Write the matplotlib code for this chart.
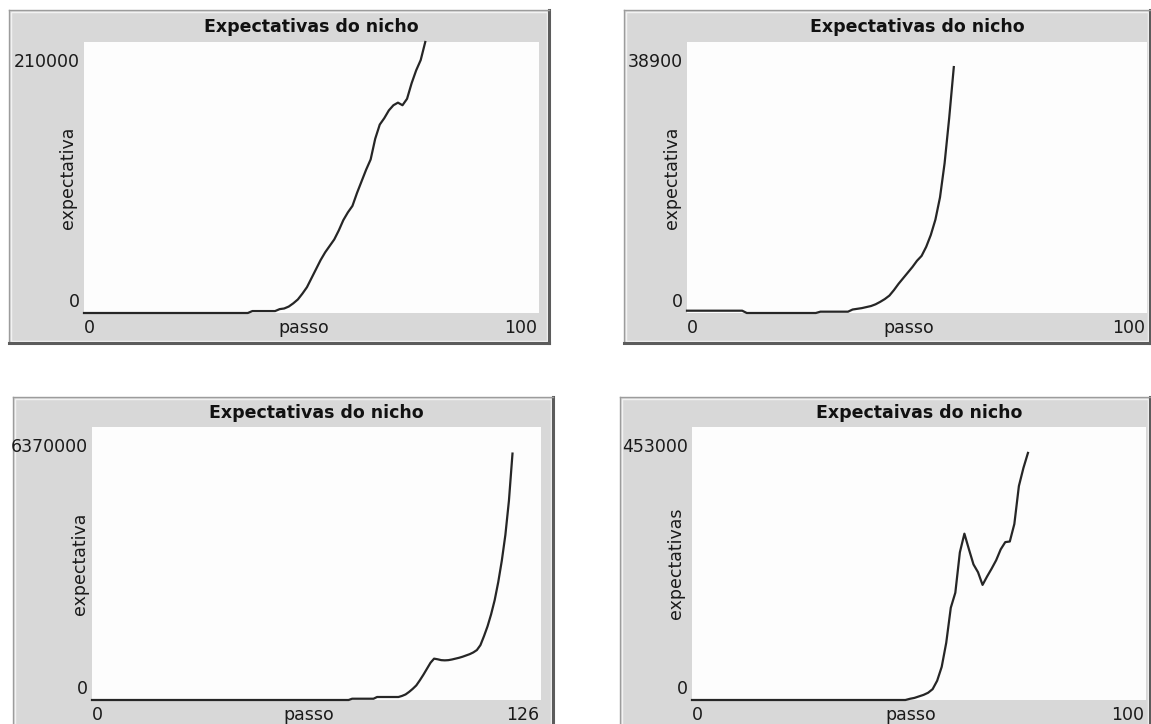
import matplotlib
matplotlib.use("Agg")
import matplotlib.pyplot as plt
from matplotlib.patches import Rectangle

plt.rcParams['font.family'] = ['DejaVu Sans']

# ---- data: expectation of the niche per step ----
expectativa_a = ([0] * 37 + [1500] * 6 +
                 [3000, 3500, 5000, 7500, 10500, 15000, 20000, 27000, 34000, 41000,
                  47000, 52000, 57000, 64000, 72000, 78000, 83000, 93000, 102000, 111000,
                  119000, 135000, 146000, 151000, 157000, 161000, 163000, 161000, 166000,
                  178000, 188000, 196000, 210000])
expectativa_b = ([330] * 13 + [0] * 16 + [190] * 7 +
                 [500, 600, 700, 850, 1000, 1250, 1600, 2000, 2500, 3300, 4200, 5000,
                  5800, 6600, 7500, 8200, 9500, 11200, 13400, 16600, 21500, 28000, 35300])
expectativa_c = ([0] * 73 + [30000] * 7 + [70000] * 7 +
                 [95000, 130000, 190000, 260000, 340000, 460000, 590000, 730000, 870000,
                  965000, 950000, 930000, 925000, 930000, 945000, 965000, 985000, 1010000,
                  1040000, 1070000, 1110000, 1165000, 1280000, 1490000, 1720000, 2000000,
                  2330000, 2750000, 3250000, 3850000, 4650000, 5750000])
expectativas_d = ([0] * 48 +
                  [2000, 3500, 6000, 8500, 12000, 18000, 32000, 55000, 95000, 153000,
                   178000, 245000, 276000, 250000, 225000, 212000, 191000, 205000, 218000,
                   232000, 250000, 262000, 263000, 292000, 355000, 385000, 410000])

titles = ["Expectativas do nicho", "Expectativas do nicho",
          "Expectativas do nicho", "Expectaivas do nicho"]
y_labels = ["expectativa", "expectativa", "expectativa", "expectativas"]
x_label = "passo"
x_max = [100, 100, 126, 100]
y_max = [210000, 38900, 6370000, 453000]
series = [expectativa_a, expectativa_b, expectativa_c, expectativas_d]

# ---- layout in pixels (x0, y0, x1, y1), measured from top-left ----
W, H = 1151, 724
frames = [(9, 10, 549, 343), (624, 10, 1150, 343),
          (13, 397, 553, 740), (620, 397, 1150, 740)]
plots = [(84, 42, 539, 313), (687, 42, 1147, 313),
         (92, 427, 541, 700), (692, 427, 1146, 700)]
ylab_off = [-16, -15, -12, -16]

GRAY = "#d8d8d8"
LINE = "#262626"
FS = 12.5


def box(b):
    x0, y0, x1, y1 = b
    return [x0 / W, 1 - y1 / H, (x1 - x0) / W, (y1 - y0) / H]


fig = plt.figure(figsize=(W / 100, H / 100), dpi=100)
fig.patch.set_facecolor("white")

for i in range(4):
    # widget background with bevelled border
    fa = fig.add_axes(box(frames[i]))
    fa.set_facecolor(GRAY)
    fa.set_xticks([])
    fa.set_yticks([])
    fa.spines["top"].set_color("#9c9c9c")
    fa.spines["left"].set_color("#9c9c9c")
    fa.spines["top"].set_linewidth(1.0)
    fa.spines["left"].set_linewidth(1.0)
    fa.spines["bottom"].set_color("#5c5c5c")
    fa.spines["right"].set_color("#5c5c5c")
    fa.spines["bottom"].set_linewidth(2.2)
    fa.spines["right"].set_linewidth(2.2)
    fa.add_patch(Rectangle((0.004, 0.006), 0.992, 0.988, transform=fa.transAxes,
                           fill=False, edgecolor="#f2f2f2", linewidth=1.0))

    ax = fig.add_axes(box(plots[i]))
    ax.set_facecolor("#fdfdfd")
    for s in ax.spines.values():
        s.set_visible(False)
    ax.set_xticks([])
    ax.set_yticks([])
    ax.set_xlim(0, x_max[i])
    ax.set_ylim(0, y_max[i])

    vals = series[i]
    ax.plot(range(len(vals)), vals, color=LINE, linewidth=1.6, clip_on=False,
            solid_joinstyle="round")

    top_gap = 15 if i < 2 else 14
    ax.annotate(titles[i], xy=(0.5, 1), xycoords="axes fraction",
                xytext=(0, top_gap), textcoords="offset pixels",
                ha="center", va="center", fontsize=FS, fontweight="bold", color="#111111")

    # y-axis range labels
    ax.annotate(f"{y_max[i]}", xy=(0, y_max[i]), xycoords=("axes fraction", "data"),
                xytext=(-4, -20), textcoords="offset pixels",
                ha="right", va="center", fontsize=FS, color="#1a1a1a")
    ax.annotate("0", xy=(0, 0), xycoords=("axes fraction", "data"),
                xytext=(-4, 11), textcoords="offset pixels",
                ha="right", va="center", fontsize=FS, color="#1a1a1a")
    ax.annotate(y_labels[i], xy=(0, 0.5), xycoords="axes fraction",
                xytext=(ylab_off[i], 0), textcoords="offset pixels",
                ha="center", va="center", rotation=90, fontsize=FS, color="#1a1a1a")

    # x-axis range labels
    ax.annotate("0", xy=(0, 0), xycoords="axes fraction",
                xytext=(0, -15), textcoords="offset pixels",
                ha="left", va="center", fontsize=FS, color="#1a1a1a")
    ax.annotate(f"{x_max[i]}", xy=(1, 0), xycoords="axes fraction",
                xytext=(-2, -15), textcoords="offset pixels",
                ha="right", va="center", fontsize=FS, color="#1a1a1a")
    ax.annotate(x_label, xy=(0.5, 0), xycoords="axes fraction",
                xytext=(-8, -15), textcoords="offset pixels",
                ha="center", va="center", fontsize=FS, color="#1a1a1a")

fig.savefig("out.png", dpi=100, facecolor="white")
